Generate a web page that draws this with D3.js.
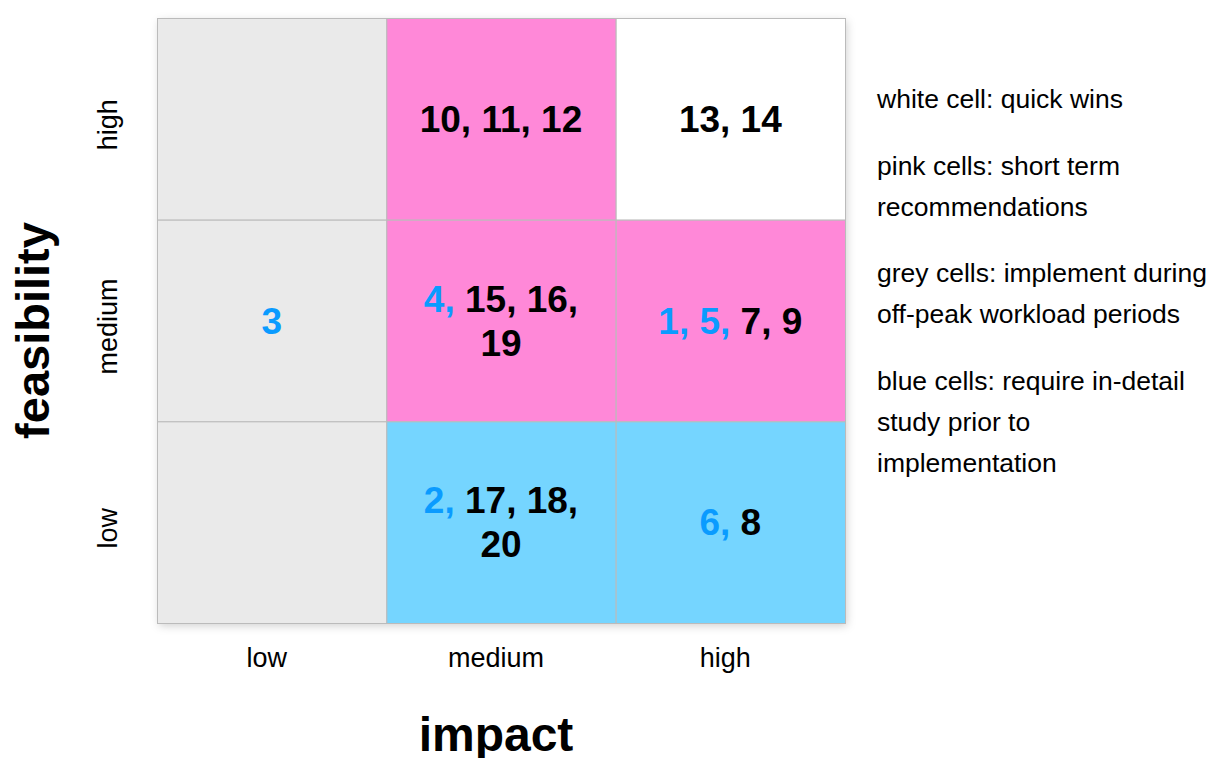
<!DOCTYPE html>
<html>
<head>
<meta charset="utf-8">
<script src="https://cdn.jsdelivr.net/npm/d3@7"></script>
<style>
  html, body { margin: 0; padding: 0; background: #fff; }
  svg { display: block; font-family: "Liberation Sans", Arial, Helvetica, sans-serif; }
</style>
</head>
<body>
<svg id="chart" width="1212" height="758"></svg>
<script>
// ---- data ----
const impactLevels = ["low", "medium", "high"];          // x categories
const feasibilityLevels = ["low", "medium", "high"];     // y categories
// cell colour class per [impact, feasibility]
const cellImpact      = ["low", "medium", "high", "low", "medium", "high", "low", "medium", "high"];
const cellFeasibility = ["high", "high", "high", "medium", "medium", "medium", "low", "low", "low"];
const cellType        = ["grey", "pink", "white", "grey", "pink", "pink", "grey", "blue", "blue"];
// items per cell, per line: segments (b = blue-highlighted item)
const cellLines = [
  [],
  [[{t:"10, 11, 12", b:false}]],
  [[{t:"13, 14", b:false}]],
  [[{t:"3", b:true}]],
  [[{t:"4, ", b:true}, {t:"15, 16,", b:false}], [{t:"19", b:false}]],
  [[{t:"1, 5, ", b:true}, {t:"7, 9", b:false}]],
  [],
  [[{t:"2, ", b:true}, {t:"17, 18,", b:false}], [{t:"20", b:false}]],
  [[{t:"6, ", b:true}, {t:"8", b:false}]]
];
const legendParagraphs = [
  ["white cell: quick wins"],
  ["pink cells: short term", "recommendations"],
  ["grey cells: implement during", "off-peak workload periods"],
  ["blue cells: require in-detail", "study prior to", "implementation"]
];
const xTitle = "impact";
const yTitle = "feasibility";

// ---- style ----
const colors = { grey: "#EAEAEA", pink: "#FF88D8", white: "#FFFFFF", blue: "#75D5FF" };
const blueText = "#0A9BFF";

const svg = d3.select("#chart");
const margin = { left: 157, top: 18, right: 367, bottom: 135 };
const W = 1212, H = 758;
const gw = W - margin.left - margin.right; // 688
const gh = H - margin.top - margin.bottom; // 605

const x = d3.scaleBand().domain(impactLevels).range([margin.left, margin.left + gw]);
const y = d3.scaleBand().domain(feasibilityLevels.slice().reverse()).range([margin.top, margin.top + gh]);

// shadow
const defs = svg.append("defs");
const f = defs.append("filter").attr("id", "shadow").attr("x", "-10%").attr("y", "-10%").attr("width", "120%").attr("height", "120%");
f.append("feDropShadow").attr("dx", 2).attr("dy", 3).attr("stdDeviation", 4).attr("flood-color", "#000").attr("flood-opacity", 0.18);

svg.append("rect")
  .attr("x", margin.left).attr("y", margin.top)
  .attr("width", gw).attr("height", gh)
  .attr("fill", "#fff").attr("filter", "url(#shadow)");

const cells = cellType.map((t, i) => ({ type: t, ix: cellImpact[i], fy: cellFeasibility[i], lines: cellLines[i] }));

svg.selectAll("rect.cell").data(cells).enter().append("rect")
  .attr("class", "cell")
  .attr("x", d => x(d.ix) + 0.5)
  .attr("y", d => y(d.fy) + 0.5)
  .attr("width", x.bandwidth())
  .attr("height", y.bandwidth())
  .attr("fill", d => colors[d.type])
  .attr("stroke", "#BBBBBB")
  .attr("stroke-width", 1);

// cell labels
const lineH = 44;
cells.forEach(d => {
  const cx = x(d.ix) + x.bandwidth() / 2;
  const cy = y(d.fy) + y.bandwidth() / 2;
  const n = d.lines.length;
  d.lines.forEach((ln, li) => {
    const ty = cy + 13 + (li - (n - 1) / 2) * lineH;
    const t = svg.append("text").attr("x", cx).attr("y", ty)
      .attr("text-anchor", "middle").attr("font-weight", "bold").attr("font-size", 37);
    ln.forEach(seg => {
      t.append("tspan").attr("fill", seg.b ? blueText : "#000").attr("xml:space", "preserve").text(seg.t);
    });
  });
});

// x tick labels
svg.selectAll("text.xtick").data(impactLevels).enter().append("text")
  .attr("class", "xtick")
  .attr("x", d => x(d) + x.bandwidth() / 2 - 5)
  .attr("y", margin.top + gh + 44)
  .attr("text-anchor", "middle").attr("font-size", 27).attr("fill", "#000")
  .text(d => d);

// y tick labels
svg.selectAll("text.ytick").data(feasibilityLevels).enter().append("text")
  .attr("class", "ytick")
  .attr("transform", d => `translate(117, ${y(d) + y.bandwidth() / 2 + 6}) rotate(-90)`)
  .attr("text-anchor", "middle").attr("font-size", 27).attr("fill", "#000")
  .text(d => d);

// axis titles
svg.append("text").attr("x", margin.left + gw / 2 - 5).attr("y", 751)
  .attr("text-anchor", "middle").attr("font-weight", "bold").attr("font-size", 48).text(xTitle);
svg.append("text").attr("transform", `translate(49, ${margin.top + gh / 2 + 10}) rotate(-90)`)
  .attr("text-anchor", "middle").attr("font-weight", "bold").attr("font-size", 47).text(yTitle);

// legend text
let ly = 108;
legendParagraphs.forEach(p => {
  p.forEach(line => {
    svg.append("text").attr("x", 877).attr("y", ly).attr("font-size", 26.5).attr("fill", "#000").text(line);
    ly += 41;
  });
  ly += 25.5;
});
</script>
</body>
</html>
